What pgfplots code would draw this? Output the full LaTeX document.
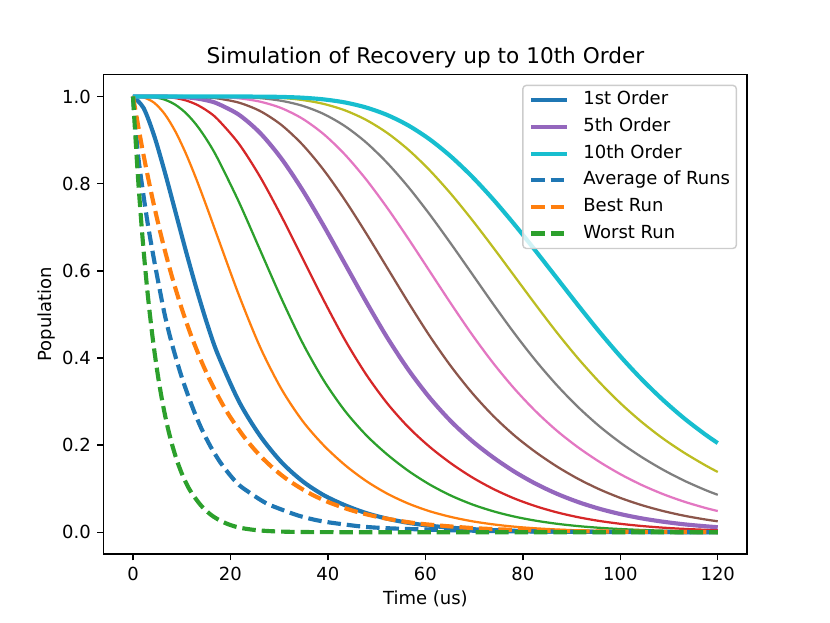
\documentclass[border=0pt]{standalone}
\usepackage{fontspec}
\setmainfont{DejaVu Sans}
\usepackage{pgfplots}
\usepackage{pgfplotstable}
\pgfplotsset{compat=1.18}
\definecolor{c0}{HTML}{1F77B4}
\definecolor{c1}{HTML}{FF7F0E}
\definecolor{c2}{HTML}{2CA02C}
\definecolor{c3}{HTML}{D62728}
\definecolor{c4}{HTML}{9467BD}
\definecolor{c5}{HTML}{8C564B}
\definecolor{c6}{HTML}{E377C2}
\definecolor{c7}{HTML}{7F7F7F}
\definecolor{c8}{HTML}{BCBD22}
\definecolor{c9}{HTML}{17BECF}
\pgfplotstableread{
t o1 o2 o3 o4 o5 o6 o7 o8 o9 o10
0 1 1 1 1 1 1 1 1 1 1
2.175 0.9735 0.9978 0.9999 1 1 1 1 1 1 1
4.35 0.9098 0.9856 0.9983 0.9998 1 1 1 1 1 1
6.525 0.8266 0.9595 0.9927 0.9989 0.9999 1 1 1 1 1
8.7 0.7358 0.9197 0.9810 0.9963 0.9994 0.9999 1 1 1 1
10.875 0.6446 0.8685 0.9617 0.9909 0.9982 0.9997 1 1 1 1
13.05 0.5578 0.8089 0.9344 0.9814 0.9955 0.9991 0.9998 1 1 1
15.225 0.4780 0.7440 0.8992 0.9671 0.9909 0.9978 0.9995 0.9999 1 1
17.4 0.4084 0.6767 0.8571 0.9474 0.9834 0.9955 0.9989 0.9998 1 1
21.75 0.3000 0.5438 0.7576 0.8912 0.9580 0.9858 0.9958 0.9989 0.9997 0.9999
26.1 0.2210 0.4246 0.6472 0.8153 0.9161 0.9665 0.9881 0.9962 0.9989 0.9997
30.45 0.1610 0.3289 0.5366 0.7254 0.8576 0.9347 0.9733 0.9901 0.9967 0.9990
34.8 0.1170 0.2553 0.4345 0.6288 0.7851 0.8893 0.9489 0.9786 0.9919 0.9972
39.15 0.0850 0.1992 0.3483 0.5321 0.7029 0.8311 0.9134 0.9597 0.9829 0.9933
43.5 0.0620 0.1542 0.2784 0.4412 0.6160 0.7622 0.8666 0.9319 0.9682 0.9863
47.85 0.0440 0.1176 0.2228 0.3620 0.5289 0.6860 0.8095 0.8944 0.9462 0.9747
52.2 0.0310 0.0884 0.1781 0.2954 0.4462 0.6063 0.7440 0.8472 0.9161 0.9574
56.55 0.0215 0.0656 0.1405 0.2406 0.3723 0.5265 0.6728 0.7916 0.8774 0.9332
60.9 0.0150 0.0481 0.1094 0.1958 0.3085 0.4501 0.5987 0.7291 0.8305 0.9015
65.25 0.0104 0.0351 0.0841 0.1581 0.2545 0.3808 0.5246 0.6620 0.7764 0.8622
69.6 0.0071 0.0252 0.0639 0.1260 0.2094 0.3196 0.4533 0.5926 0.7166 0.8159
73.95 0.0049 0.0180 0.0481 0.0993 0.1715 0.2667 0.3877 0.5231 0.6530 0.7634
78.3 0.0033 0.0127 0.0358 0.0773 0.1388 0.2217 0.3290 0.4560 0.5874 0.7060
82.65 0.0022 0.0090 0.0265 0.0597 0.1112 0.1837 0.2774 0.3936 0.5218 0.6453
87.0 0.0015 0.0063 0.0194 0.0456 0.0882 0.1508 0.2328 0.3372 0.4581 0.5830
91.35 0.0010 0.0043 0.0141 0.0345 0.0693 0.1225 0.1947 0.2871 0.3987 0.5207
95.7 0.0006 0.0030 0.0102 0.0259 0.0539 0.0986 0.1617 0.2433 0.3446 0.4601
100.05 0.0004 0.0021 0.0073 0.0193 0.0416 0.0786 0.1330 0.2053 0.2959 0.4032
104.4 0.0003 0.0014 0.0052 0.0143 0.0318 0.0622 0.1084 0.1724 0.2529 0.3509
108.75 0.0002 0.0010 0.0037 0.0105 0.0242 0.0488 0.0876 0.1435 0.2152 0.3037
113.1 0.0001 0.0006 0.0026 0.0077 0.0182 0.0379 0.0702 0.1184 0.1825 0.2614
117.45 0.0001 0.0004 0.0018 0.0056 0.0137 0.0293 0.0558 0.0969 0.1536 0.2242
120 0.0001 0.0003 0.0015 0.0046 0.0115 0.0251 0.0487 0.0859 0.1383 0.2046
}\orders
\pgfplotstableread{
t y
0 1.0
1 0.870
2 0.785
3 0.710
4 0.645
5 0.585
6.5 0.500
8 0.432
10 0.356
12.1 0.290
14 0.239
16 0.195
18 0.159
20 0.130
21.8 0.108
24.3 0.088
26.2 0.074
28 0.063
31.7 0.047
34 0.038
37.1 0.029
40 0.023
43.3 0.018
47 0.013
50.8 0.010
55 0.008
60.7 0.006
70 0.0035
80 0.002
90 0.0013
100 0.0008
110 0.0005
120 0.0003
}\avgrun
\pgfplotstableread{
t y
0 1.0
2 0.8752
4 0.7659
6 0.6703
8 0.5866
10 0.5134
12 0.4493
14 0.3932
16 0.3442
18 0.3012
20 0.2636
23 0.2158
26 0.1767
29 0.1447
32 0.1184
36 0.0907
40 0.0695
45 0.0498
50 0.0357
55 0.0256
60 0.0183
70 0.0094
80 0.0048
90 0.0025
100 0.0013
110 0.0007
120 0.0003
}\bestrun
\pgfplotstableread{
t y
0 1.0
1 0.8187
2 0.6703
3 0.5488
4 0.4493
5 0.3679
6 0.3012
7 0.2466
8 0.2019
9 0.1653
10 0.1353
11 0.1108
12 0.0907
14 0.0608
16 0.0400
18 0.0260
20 0.0165
22 0.0102
25 0.0052
28 0.0026
32 0.0010
36 0.0004
40 0.0002
50 0.0
60 0.0
80 0.0
100 0.0
120 0.0
}\worstrun
\begin{document}
\begin{tikzpicture}
\path[use as bounding box] (-57.6bp,-38.016bp) rectangle (403.2bp,307.584bp);
\begin{axis}[
  at={(0,0)}, anchor=south west,
  scale only axis, width=357.12bp, height=266.11bp,
  xmin=-6, xmax=126, ymin=-0.05, ymax=1.05,
  xtick={0,20,40,60,80,100,120},
  ytick={0,0.2,0.4,0.6,0.8,1.0},
  minor tick num=0,
  tick align=outside, tick pos=left,
  major tick length=3.5bp,
  every tick/.style={black, line width=0.8bp},
  axis line style={line width=0.8bp},
  /pgf/number format/assume math mode=true,
  yticklabel style={/pgf/number format/fixed, /pgf/number format/fixed zerofill, /pgf/number format/precision=1},
  ticklabel style={font=\fontsize{10bp}{12bp}\selectfont},
  xticklabel style={anchor=north, inner sep=0pt, yshift=-3.5bp},
  yticklabel style={anchor=east, inner sep=0pt, xshift=-3.5bp},
  title={Simulation of Recovery up to 10th Order},
  title style={font=\fontsize{12bp}{14bp}\selectfont, at={(axis description cs:0.5,1)}, anchor=base, inner sep=0pt},
  xlabel={Time (us)},
  xlabel style={font=\fontsize{10bp}{12bp}\selectfont, at={(axis description cs:0.5,-0.0752)}, anchor=north, inner sep=0pt},
  ylabel={Population},
  ylabel style={font=\fontsize{10bp}{12bp}\selectfont, at={(axis description cs:-0.0756,0.5)}, anchor=south, inner sep=0pt},
  legend image code/.code={\draw[#1] (0bp,0bp) -- (20bp,0bp);},
  legend cell align=left,
  legend style={at={(axis description cs:1,1)}, anchor=north east, xshift=-5.5bp, yshift=-5.5bp,
    draw=black!20, line width=0.8bp, rounded corners=2bp, fill=white, fill opacity=0.8, text opacity=1,
    font=\fontsize{10bp}{12bp}\selectfont,
    inner xsep=3.5bp, inner ysep=3.3bp, row sep=4.8bp, column sep=7.8bp,
    nodes={inner sep=0pt, text height=7.6bp, text depth=2.4bp}},
  thinl/.style={line width=1.25bp},
  thickl/.style={line width=2.3bp},
  dashl/.style={line width=2.3bp, dash pattern=on 7.5bp off 3.3bp},
]
\addplot[c0, thickl, smooth, tension=0.5] table[x=t, y=o1] {\orders};
\addlegendentry{1st Order}
\addplot[c1, thinl, smooth, tension=0.5, forget plot] table[x=t, y=o2] {\orders};
\addplot[c2, thinl, smooth, tension=0.5, forget plot] table[x=t, y=o3] {\orders};
\addplot[c3, thinl, smooth, tension=0.5, forget plot] table[x=t, y=o4] {\orders};
\addplot[c4, thickl, smooth, tension=0.5] table[x=t, y=o5] {\orders};
\addlegendentry{5th Order}
\addplot[c5, thinl, smooth, tension=0.5, forget plot] table[x=t, y=o6] {\orders};
\addplot[c6, thinl, smooth, tension=0.5, forget plot] table[x=t, y=o7] {\orders};
\addplot[c7, thinl, smooth, tension=0.5, forget plot] table[x=t, y=o8] {\orders};
\addplot[c8, thinl, smooth, tension=0.5, forget plot] table[x=t, y=o9] {\orders};
\addplot[c9, thickl, smooth, tension=0.5] table[x=t, y=o10] {\orders};
\addlegendentry{10th Order}
\addplot[c0, dashl, smooth, tension=0.5] table[x=t, y=y] {\avgrun};
\addlegendentry{Average of Runs}
\addplot[c1, dashl, smooth, tension=0.5] table[x=t, y=y] {\bestrun};
\addlegendentry{Best Run}
\addplot[c2, dashl, smooth, tension=0.5] table[x=t, y=y] {\worstrun};
\addlegendentry{Worst Run}
\end{axis}
\end{tikzpicture}
\end{document}
